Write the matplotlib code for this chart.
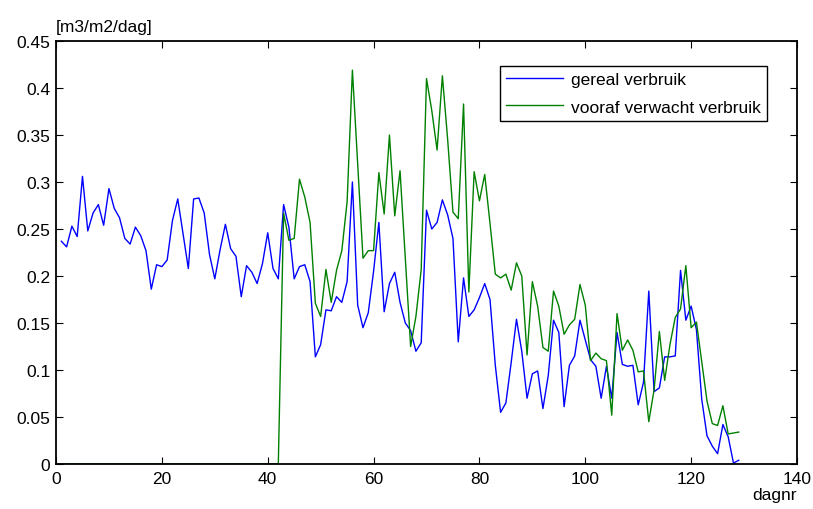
import matplotlib
matplotlib.use("Agg")
import matplotlib.pyplot as plt

plt.rcParams['font.family'] = ['Liberation Sans', 'DejaVu Sans']

days_real = list(range(1, 130))
real = [0.237, 0.231, 0.253, 0.242, 0.306, 0.248, 0.267, 0.276, 0.254, 0.293,
        0.272, 0.262, 0.240, 0.234, 0.252, 0.243, 0.227, 0.186, 0.212, 0.210,
        0.217, 0.259, 0.282, 0.245, 0.208, 0.282, 0.283, 0.267, 0.223, 0.197,
        0.228, 0.255, 0.229, 0.221, 0.178, 0.211, 0.204, 0.192, 0.213, 0.246,
        0.208, 0.197, 0.276, 0.252, 0.197, 0.210, 0.212, 0.194, 0.114, 0.127,
        0.164, 0.163, 0.178, 0.172, 0.194, 0.300, 0.169, 0.145, 0.161, 0.205,
        0.257, 0.162, 0.192, 0.204, 0.172, 0.150, 0.142, 0.120, 0.129, 0.270,
        0.250, 0.257, 0.281, 0.265, 0.240, 0.130, 0.198, 0.157, 0.164, 0.177,
        0.192, 0.175, 0.105, 0.055, 0.065, 0.108, 0.154, 0.120, 0.070, 0.096,
        0.099, 0.059, 0.094, 0.153, 0.140, 0.061, 0.105, 0.115, 0.153, 0.132,
        0.111, 0.104, 0.070, 0.104, 0.070, 0.140, 0.106, 0.104, 0.105, 0.063,
        0.087, 0.184, 0.077, 0.081, 0.114, 0.114, 0.115, 0.206, 0.153, 0.168,
        0.143, 0.069, 0.030, 0.019, 0.011, 0.042, 0.029, 0.001, 0.004]

days_exp = list(range(0, 130))
expected = [0.0] * 43 + [
        0.267, 0.238, 0.240, 0.303, 0.284, 0.257, 0.171, 0.157,
        0.207, 0.172, 0.206, 0.227, 0.279, 0.419, 0.319, 0.219, 0.227, 0.227,
        0.310, 0.266, 0.350, 0.264, 0.312, 0.218, 0.125, 0.157, 0.207, 0.410,
        0.376, 0.334, 0.413, 0.345, 0.268, 0.261, 0.383, 0.183, 0.311, 0.280,
        0.308, 0.256, 0.202, 0.198, 0.202, 0.185, 0.214, 0.200, 0.116, 0.194,
        0.168, 0.124, 0.120, 0.184, 0.168, 0.138, 0.148, 0.154, 0.191, 0.169,
        0.110, 0.118, 0.112, 0.110, 0.052, 0.160, 0.121, 0.132, 0.121, 0.098,
        0.099, 0.045, 0.079, 0.141, 0.089, 0.127, 0.156, 0.165, 0.211, 0.145,
        0.151, 0.109, 0.067, 0.043, 0.041, 0.062, 0.032, 0.033, 0.034]

xticks = [0, 20, 40, 60, 80, 100, 120, 140]
yticks = [0, 0.05, 0.1, 0.15, 0.2, 0.25, 0.3, 0.35, 0.4, 0.45]
ytick_labels = ['0', '0.05', '0.1', '0.15', '0.2', '0.25', '0.3', '0.35', '0.4', '0.45']

fig = plt.figure(figsize=(8.13, 5.10), dpi=100)
ax = fig.add_axes([0.0689, 0.0882, 0.9114, 0.8294])

ax.plot(days_real, real, color='#0000ff', lw=1.0, label='gereal verbruik')
ax.plot(days_exp, expected, color='#008000', lw=1.0, label='vooraf verwacht verbruik')

ax.set_xlim(0, 140)
ax.set_ylim(0, 0.45)
ax.set_xticks(xticks)
ax.set_xticklabels([str(t) for t in xticks])
ax.set_yticks(yticks)
ax.set_yticklabels(ytick_labels)
ax.tick_params(direction='in', top=True, right=True, labelsize=12.5,
               length=5, width=0.8)
ax.tick_params(axis='x', pad=5)
ax.tick_params(axis='y', pad=4)
for s in ax.spines.values():
    s.set_linewidth(1.3)

ax.text(0.0, 1.017, '[m3/m2/dag]', transform=ax.transAxes, fontsize=12.5,
        ha='left', va='bottom')
ax.text(1.0, -0.073, 'dagnr', transform=ax.transAxes, fontsize=12.5,
        ha='right', va='center')

leg = ax.legend(loc='upper right', bbox_to_anchor=(0.9595, 0.941), fontsize=12.5,
                fancybox=False, framealpha=1, edgecolor='black',
                handlelength=3.3, handletextpad=0.45, borderpad=0.35,
                labelspacing=0.7, borderaxespad=0)
leg.get_frame().set_linewidth(1.0)

fig.savefig('out.png', dpi=100)
